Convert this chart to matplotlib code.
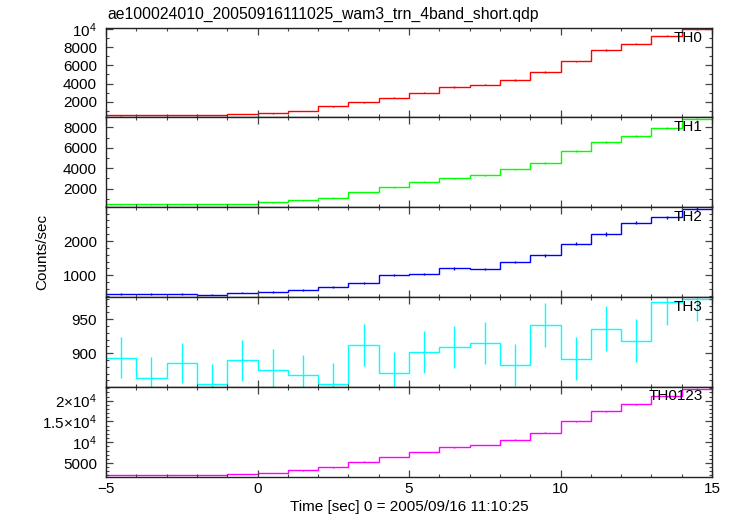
import matplotlib
matplotlib.use("Agg")
import matplotlib.pyplot as plt
from matplotlib.ticker import MultipleLocator, FixedLocator, FixedFormatter
import numpy as np

plt.rcParams['font.family'] = ['Liberation Sans', 'DejaVu Sans']
plt.rcParams['mathtext.fontset'] = 'custom'
plt.rcParams['mathtext.rm'] = 'Liberation Sans'
plt.rcParams['mathtext.it'] = 'Liberation Sans'

title = "ae100024010_20050916111025_wam3_trn_4band_short.qdp"
xlabel = "Time [sec] 0 = 2005/09/16 11:10:25"
ylabel = "Counts/sec"

# bin centres (1 s bins from -5 to 15)
time = [-4.5, -3.5, -2.5, -1.5, -0.5, 0.5, 1.5, 2.5, 3.5, 4.5,
        5.5, 6.5, 7.5, 8.5, 9.5, 10.5, 11.5, 12.5, 13.5, 14.5]
half_width = 0.5

th0 = [500, 510, 520, 540, 620, 700, 960, 1480, 1920, 2440,
       3000, 3620, 3890, 4400, 5260, 6440, 7670, 8400, 9290, 10000]
th0_err = [25, 25, 25, 25, 27, 28, 32, 38, 44, 50,
           55, 60, 62, 66, 72, 80, 88, 92, 96, 100]

th1 = [470, 470, 470, 480, 500, 670, 870, 1130, 1680, 2140,
       2660, 3020, 3310, 3900, 4520, 5700, 6550, 7170, 7960, 8840]
th1_err = [22, 22, 22, 22, 23, 26, 30, 34, 41, 46,
           52, 55, 58, 62, 67, 75, 81, 85, 89, 94]

th2 = [455, 455, 455, 435, 493, 513, 571, 650, 784, 1000,
       1047, 1204, 1184, 1388, 1583, 1913, 2204, 2534, 2691, 2933]
th2_err = [21, 21, 21, 21, 22, 23, 24, 26, 28, 32,
           32, 35, 34, 37, 40, 44, 47, 50, 52, 54]

th3 = [893.5, 863.7, 885.7, 854.5, 889.7, 875.9, 867.6, 855.3, 911.8, 871.0,
       901.5, 908.8, 914.7, 882.8, 941.6, 892.0, 936.2, 918.6, 975.0, 980.0]
th3_err = [30, 30, 30, 30, 30, 30, 30, 30, 31, 31,
           31, 31, 31, 31, 33, 32, 33, 32, 33, 33]

th0123 = [2188, 2188, 2188, 2188, 2350, 2600, 3250, 3970, 5310, 6440,
          7640, 8770, 9330, 10600, 12280, 15000, 17400, 19090, 21080, 22930]
th0123_err = [47, 47, 47, 47, 48, 51, 57, 63, 73, 80,
              87, 94, 97, 103, 111, 122, 132, 138, 145, 151]

names = ["TH0", "TH1", "TH2", "TH3", "TH0123"]
colors = ["#ff0000", "#00ff00", "#0000ff", "#00ffff", "#ff00ff"]

ylims = [(367, 10180), (255, 9060), (382, 3006), (851, 983.5), (1755, 23413)]
major = [[2000, 4000, 6000, 8000, 10000], [2000, 4000, 6000, 8000],
         [1000, 2000], [900, 950], [5000, 10000, 15000, 20000]]
major_lbl = [["2000", "4000", "6000", "8000", r"$\mathregular{10^4}$"],
             ["2000", "4000", "6000", "8000"],
             ["1000", "2000"], ["900", "950"],
             ["5000", r"$\mathregular{10^4}$", r"$\mathregular{1.5{\times}10^4}$",
              r"$\mathregular{2{\times}10^4}$"]]
minor = [1000, 1000, 200, 10, 1000]

series = [(th0, th0_err), (th1, th1_err), (th2, th2_err), (th3, th3_err), (th0123, th0123_err)]

fig = plt.figure(figsize=(7.33, 5.16), dpi=100)
W, H = 733.0, 516.0
left_px, right_px = 106.0, 712.0
edges_px = [27.5, 116.5, 206.5, 296.5, 386.5, 476.5]

for i in range(5):
    top = edges_px[i]
    bot = edges_px[i + 1]
    ax = fig.add_axes([left_px / W, 1 - bot / H, (right_px - left_px) / W, (bot - top) / H])
    vals, errs = series[i]
    vals = np.asarray(vals, dtype=float)
    t = np.asarray(time)
    edges = np.concatenate([t - half_width, [t[-1] + half_width]])
    ax.stairs(vals, edges, color=colors[i], lw=1.0, baseline=None)
    ax.errorbar(t, vals, yerr=errs, fmt='none', ecolor=colors[i], elinewidth=1.0, capsize=0)
    ax.set_xlim(-5, 15)
    ax.set_ylim(*ylims[i])
    ax.yaxis.set_major_locator(FixedLocator(major[i]))
    ax.yaxis.set_major_formatter(FixedFormatter(major_lbl[i]))
    ax.yaxis.set_minor_locator(MultipleLocator(minor[i]))
    ax.xaxis.set_major_locator(MultipleLocator(5))
    ax.xaxis.set_minor_locator(MultipleLocator(1))
    ax.tick_params(which='both', direction='in', top=True, right=True, color='#444444')
    ax.tick_params(which='major', length=5, width=0.9)
    ax.tick_params(which='minor', length=2.5, width=0.8)
    ax.tick_params(axis='y', labelsize=11, pad=6.5)
    ax.tick_params(axis='x', labelsize=11, pad=4)
    for s in ax.spines.values():
        s.set_color('#222222')
        s.set_linewidth(1.0)
    if i < 4:
        ax.tick_params(axis='x', labelbottom=False)
    ax.text(0.985, 0.88 if i < 4 else 0.9, names[i], transform=ax.transAxes,
            ha='right', va='center', fontsize=11)

fig.text(107 / W, 1 - 14 / H, title, ha='left', va='center', fontsize=11.3)
fig.text(42 / W, 1 - 252 / H, ylabel, ha='center', va='center', rotation=90, fontsize=11)
fig.text(409 / W, 1 - 507 / H, xlabel, ha='center', va='center', fontsize=11)

fig.savefig("out.png", dpi=100)
